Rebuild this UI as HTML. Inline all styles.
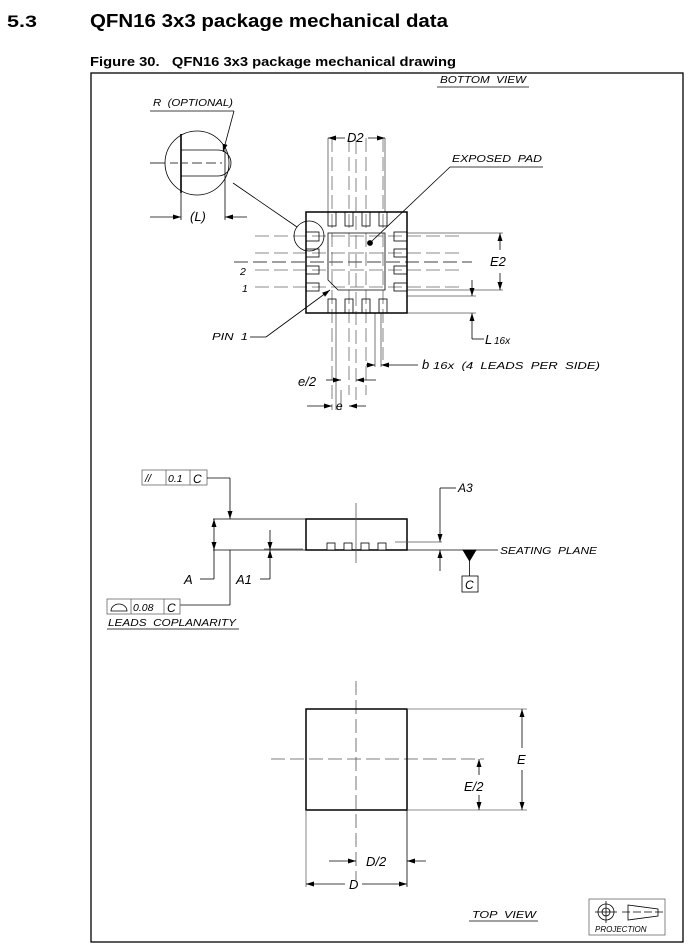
<!DOCTYPE html>
<html><head><meta charset="utf-8"><style>
html,body{margin:0;padding:0;background:#fff;width:692px;height:951px;overflow:hidden}
svg{display:block}
text{white-space:pre}
.t{font-family:"Liberation Sans",sans-serif;font-style:italic;fill:#000}
</style></head><body>
<svg width="692" height="951" viewBox="0 0 692 951" xmlns="http://www.w3.org/2000/svg" xml:space="preserve">
<defs>
<marker id="a" markerWidth="8" markerHeight="6" refX="8" refY="3" orient="auto" markerUnits="userSpaceOnUse"><path d="M0,0.5 L8,3 L0,5.5z" fill="#000"/></marker>
</defs>
<text x="7" y="27" font-family="Liberation Sans,sans-serif" font-weight="bold" font-size="17" textLength="30" lengthAdjust="spacingAndGlyphs">5.3</text>
<text x="90" y="27" font-family="Liberation Sans,sans-serif" font-weight="bold" font-size="18" textLength="358" lengthAdjust="spacingAndGlyphs">QFN16 3x3 package mechanical data</text>
<text x="90" y="66" font-family="Liberation Sans,sans-serif" font-weight="bold" font-size="12.5" textLength="366" lengthAdjust="spacingAndGlyphs">Figure 30.   QFN16 3x3 package mechanical drawing</text>
<rect x="91" y="73" width="592" height="869" fill="none" stroke="#000" stroke-width="1.3"/>

<g fill="none" stroke="#000" stroke-width="0.8">
<text class="t" x="440" y="83" font-size="10.5" stroke="none" textLength="86" lengthAdjust="spacingAndGlyphs">BOTTOM  VIEW</text>
<line x1="437" y1="87" x2="529" y2="87"/>
<g stroke="#666" stroke-dasharray="14,5">
<line x1="234" y1="262" x2="472" y2="262" stroke="#000"/>
<line x1="356" y1="140" x2="356" y2="400"/>
<line x1="332" y1="138" x2="332" y2="410"/>
<line x1="349" y1="138" x2="349" y2="395"/>
<line x1="366" y1="138" x2="366" y2="395"/>
<line x1="383" y1="138" x2="383" y2="360"/>
<line x1="255" y1="236" x2="460" y2="236"/>
<line x1="255" y1="253" x2="460" y2="253"/>
<line x1="255" y1="270" x2="460" y2="270"/>
<line x1="255" y1="287" x2="460" y2="287"/>
</g>
<g stroke="#555">
<line x1="328" y1="138" x2="328" y2="212"/><line x1="385" y1="138" x2="385" y2="212"/>
<line x1="375" y1="313" x2="375" y2="367"/><line x1="381" y1="313" x2="381" y2="367"/>
<line x1="407" y1="233" x2="503" y2="233"/><line x1="407" y1="290" x2="503" y2="290"/>
<line x1="407" y1="296" x2="476" y2="296"/><line x1="407" y1="313" x2="476" y2="313"/>
<line x1="336" y1="313" x2="336" y2="410"/><line x1="341" y1="390" x2="341" y2="410"/>
</g>
<rect x="306" y="212" width="101" height="101" stroke-width="1.5"/>
<path d="M328,233 H385 V290 H338 L328,280 Z"/>
<g stroke-width="0.8">
<rect x="328" y="212" width="8" height="14"/><rect x="345" y="212" width="8" height="14"/><rect x="362" y="212" width="8" height="14"/><rect x="379" y="212" width="8" height="14"/>
<rect x="328" y="299" width="8" height="14"/><rect x="345" y="299" width="8" height="14"/><rect x="362" y="299" width="8" height="14"/><rect x="379" y="299" width="8" height="14"/>
<rect x="306" y="232" width="13" height="9"/><rect x="306" y="249" width="13" height="8"/><rect x="306" y="266" width="13" height="8"/><rect x="306" y="283" width="13" height="8"/>
<rect x="394" y="232" width="13" height="9"/><rect x="394" y="249" width="13" height="8"/><rect x="394" y="266" width="13" height="8"/><rect x="394" y="283" width="13" height="8"/>
</g>
<circle cx="370" cy="243" r="2.5" fill="#000"/>
<circle cx="309" cy="236" r="15"/>
<line x1="233" y1="183" x2="297" y2="227"/>
<circle cx="197" cy="163" r="32"/>
<line x1="181" y1="134" x2="181" y2="193" stroke-width="1.6"/>
<line x1="181" y1="150" x2="218" y2="150"/><line x1="181" y1="176" x2="218" y2="176"/>
<path d="M218,150 A13,13 0 0 1 218,176"/>
<line x1="225" y1="150" x2="225" y2="220"/><line x1="181" y1="193" x2="181" y2="220"/>
<line x1="150" y1="163" x2="165" y2="163"/><line x1="170" y1="163" x2="188" y2="163" stroke-dasharray="8,4"/><line x1="192" y1="163" x2="222" y2="163" stroke-dasharray="10,4"/>
<line x1="150" y1="217" x2="181" y2="217" marker-end="url(#a)"/><line x1="247" y1="217" x2="225" y2="217" marker-end="url(#a)"/>
<text class="t" x="190" y="221" font-size="13" stroke="none">(L)</text>
<text class="t" x="153" y="106" font-size="10.5" stroke="none" textLength="80" lengthAdjust="spacingAndGlyphs">R  (OPTIONAL)</text>
<line x1="150" y1="111" x2="234" y2="111"/>
<line x1="234" y1="111" x2="223" y2="152" marker-end="url(#a)"/>
<line x1="345" y1="138" x2="328" y2="138" marker-end="url(#a)"/><line x1="368" y1="138" x2="385" y2="138" marker-end="url(#a)"/>
<text class="t" x="347" y="142" font-size="13" stroke="none">D2</text>
<text class="t" x="452" y="162" font-size="10.5" stroke="none" textLength="90" lengthAdjust="spacingAndGlyphs">EXPOSED  PAD</text>
<line x1="450" y1="167" x2="543" y2="167"/>
<line x1="450" y1="167" x2="372" y2="241"/>
<line x1="500" y1="250" x2="500" y2="233" marker-end="url(#a)"/><line x1="500" y1="273" x2="500" y2="290" marker-end="url(#a)"/>
<text class="t" x="490" y="266" font-size="13" stroke="none">E2</text>
<line x1="472" y1="280" x2="472" y2="296" marker-end="url(#a)"/><line x1="472" y1="329" x2="472" y2="313" marker-end="url(#a)"/>
<line x1="472" y1="329" x2="472" y2="339"/><line x1="472" y1="339" x2="484" y2="339"/>
<text class="t" x="485" y="344" font-size="13" stroke="none">L</text><text class="t" x="494" y="344" font-size="10" stroke="none">16x</text>
<line x1="366" y1="365" x2="375" y2="365" marker-end="url(#a)"/><line x1="418" y1="365" x2="381" y2="365" marker-end="url(#a)"/>
<text class="t" x="422" y="369" font-size="13" stroke="none">b</text><text class="t" x="433" y="369" font-size="10.5" stroke="none" textLength="167" lengthAdjust="spacingAndGlyphs">16x  (4  LEADS  PER  SIDE)</text>
<line x1="326" y1="380" x2="341" y2="380" marker-end="url(#a)"/><line x1="376" y1="380" x2="356" y2="380" marker-end="url(#a)"/>
<text class="t" x="298" y="386" font-size="13" stroke="none">e/2</text>
<line x1="307" y1="406" x2="332" y2="406" marker-end="url(#a)"/><line x1="366" y1="406" x2="349" y2="406" marker-end="url(#a)"/>
<text class="t" x="336" y="410" font-size="12" stroke="none">e</text>
<text class="t" x="240" y="275" font-size="10.5" stroke="none">2</text>
<text class="t" x="242" y="292" font-size="10.5" stroke="none">1</text>
<text class="t" x="212" y="340" font-size="10.5" stroke="none" textLength="36" lengthAdjust="spacingAndGlyphs">PIN  1</text>
<line x1="250" y1="337" x2="266" y2="337"/>
<line x1="266" y1="337" x2="330" y2="290" marker-end="url(#a)"/>

<rect x="142" y="470" width="65" height="15" stroke="#666"/>
<line x1="166" y1="470" x2="166" y2="485" stroke="#666"/><line x1="190" y1="470" x2="190" y2="485" stroke="#666"/>
<text class="t" x="145" y="482" font-size="11" stroke="none">//</text>
<text class="t" x="168" y="482" font-size="10.5" stroke="none">0.1</text>
<text class="t" x="193" y="483" font-size="12" stroke="none">C</text>
<line x1="207" y1="478" x2="230" y2="478"/><line x1="230" y1="478" x2="230" y2="519" marker-end="url(#a)"/>
<line x1="213" y1="519" x2="306" y2="519"/>
<line x1="213" y1="550" x2="498" y2="550"/>
<line x1="214" y1="535" x2="214" y2="519" marker-end="url(#a)"/><line x1="214" y1="535" x2="214" y2="550" marker-end="url(#a)"/>
<line x1="214" y1="550" x2="214" y2="579"/><line x1="200" y1="579" x2="214" y2="579"/>
<text class="t" x="184" y="584" font-size="13" stroke="none">A</text>
<rect x="306" y="519" width="101" height="31" stroke-width="1.5"/>
<g fill="#fff"><rect x="327" y="543" width="8" height="7"/><rect x="344" y="543" width="8" height="7"/><rect x="361" y="543" width="8" height="7"/><rect x="378" y="543" width="8" height="7"/></g>
<line x1="356" y1="503" x2="356" y2="563" stroke="#555"/>
<line x1="395" y1="542" x2="442" y2="542" stroke="#555"/>
<line x1="264" y1="549" x2="303" y2="549" stroke="#555"/>
<line x1="270" y1="530" x2="270" y2="550" marker-end="url(#a)"/><line x1="270" y1="565" x2="270" y2="550" marker-end="url(#a)"/>
<line x1="270" y1="565" x2="270" y2="579"/><line x1="260" y1="579" x2="270" y2="579"/>
<text class="t" x="236" y="584" font-size="13" stroke="none">A1</text>
<line x1="440" y1="488" x2="440" y2="542" marker-end="url(#a)"/><line x1="440" y1="571" x2="440" y2="550" marker-end="url(#a)"/>
<line x1="440" y1="488" x2="456" y2="488"/>
<text class="t" x="458" y="492" font-size="12" stroke="none">A3</text>
<path d="M463,550 L476,550 L469.5,561 Z" fill="#000"/>
<line x1="469.5" y1="561" x2="469.5" y2="576"/>
<rect x="462" y="576" width="16" height="16"/>
<text class="t" x="465" y="589" font-size="12" stroke="none">C</text>
<text class="t" x="500" y="554" font-size="10.5" stroke="none" textLength="97" lengthAdjust="spacingAndGlyphs">SEATING  PLANE</text>
<line x1="230" y1="550" x2="230" y2="605"/><line x1="180" y1="605" x2="230" y2="605"/>
<rect x="107" y="599" width="73" height="15" stroke="#666"/>
<line x1="131" y1="599" x2="131" y2="614" stroke="#666"/><line x1="164" y1="599" x2="164" y2="614" stroke="#666"/>
<path d="M111,611 A8,7 0 0 1 127,611 Z"/>
<text class="t" x="133" y="611" font-size="10.5" stroke="none">0.08</text>
<text class="t" x="167" y="612" font-size="12" stroke="none">C</text>
<text class="t" x="108" y="626" font-size="10.5" stroke="none" textLength="128" lengthAdjust="spacingAndGlyphs">LEADS  COPLANARITY</text>
<line x1="107" y1="629" x2="239" y2="629"/>

<line x1="356" y1="681" x2="356" y2="880" stroke-dasharray="14,5" stroke="#555"/>
<line x1="271" y1="759" x2="484" y2="759" stroke-dasharray="14,5" stroke="#555"/>
<rect x="306" y="709" width="101" height="101" stroke-width="1.5"/>
<line x1="407" y1="709" x2="527" y2="709" stroke="#666"/><line x1="407" y1="810" x2="527" y2="810" stroke="#666"/>
<line x1="306" y1="810" x2="306" y2="887" stroke="#666"/><line x1="407" y1="810" x2="407" y2="887"/>
<line x1="522" y1="748" x2="522" y2="709" marker-end="url(#a)"/><line x1="522" y1="770" x2="522" y2="810" marker-end="url(#a)"/>
<text class="t" x="517" y="764" font-size="13" stroke="none">E</text>
<line x1="479" y1="775" x2="479" y2="759" marker-end="url(#a)"/><line x1="479" y1="795" x2="479" y2="810" marker-end="url(#a)"/>
<text class="t" x="464" y="791" font-size="13" stroke="none">E/2</text>
<line x1="329" y1="861" x2="356" y2="861" marker-end="url(#a)"/><line x1="426" y1="861" x2="407" y2="861" marker-end="url(#a)"/>
<text class="t" x="366" y="866" font-size="13" stroke="none">D/2</text>
<line x1="345" y1="884" x2="306" y2="884" marker-end="url(#a)"/><line x1="362" y1="884" x2="407" y2="884" marker-end="url(#a)"/>
<text class="t" x="349" y="889" font-size="13" stroke="none">D</text>
<text class="t" x="472" y="918" font-size="10.5" stroke="none" textLength="64" lengthAdjust="spacingAndGlyphs">TOP  VIEW</text>
<line x1="469" y1="921" x2="538" y2="921"/>
<rect x="589" y="899" width="76" height="36" stroke="#666"/>
<circle cx="606" cy="912" r="8"/><circle cx="606" cy="912" r="4"/>
<line x1="595" y1="912" x2="617" y2="912"/><line x1="606" y1="901" x2="606" y2="923"/>
<path d="M628,905 L658,909 L658,916 L628,920 Z"/>
<line x1="622" y1="912" x2="664" y2="912" stroke-dasharray="8,3"/>
<text class="t" x="595" y="932" font-size="8" stroke="none">PROJECTION</text>
</g>
</svg>
</body></html>
